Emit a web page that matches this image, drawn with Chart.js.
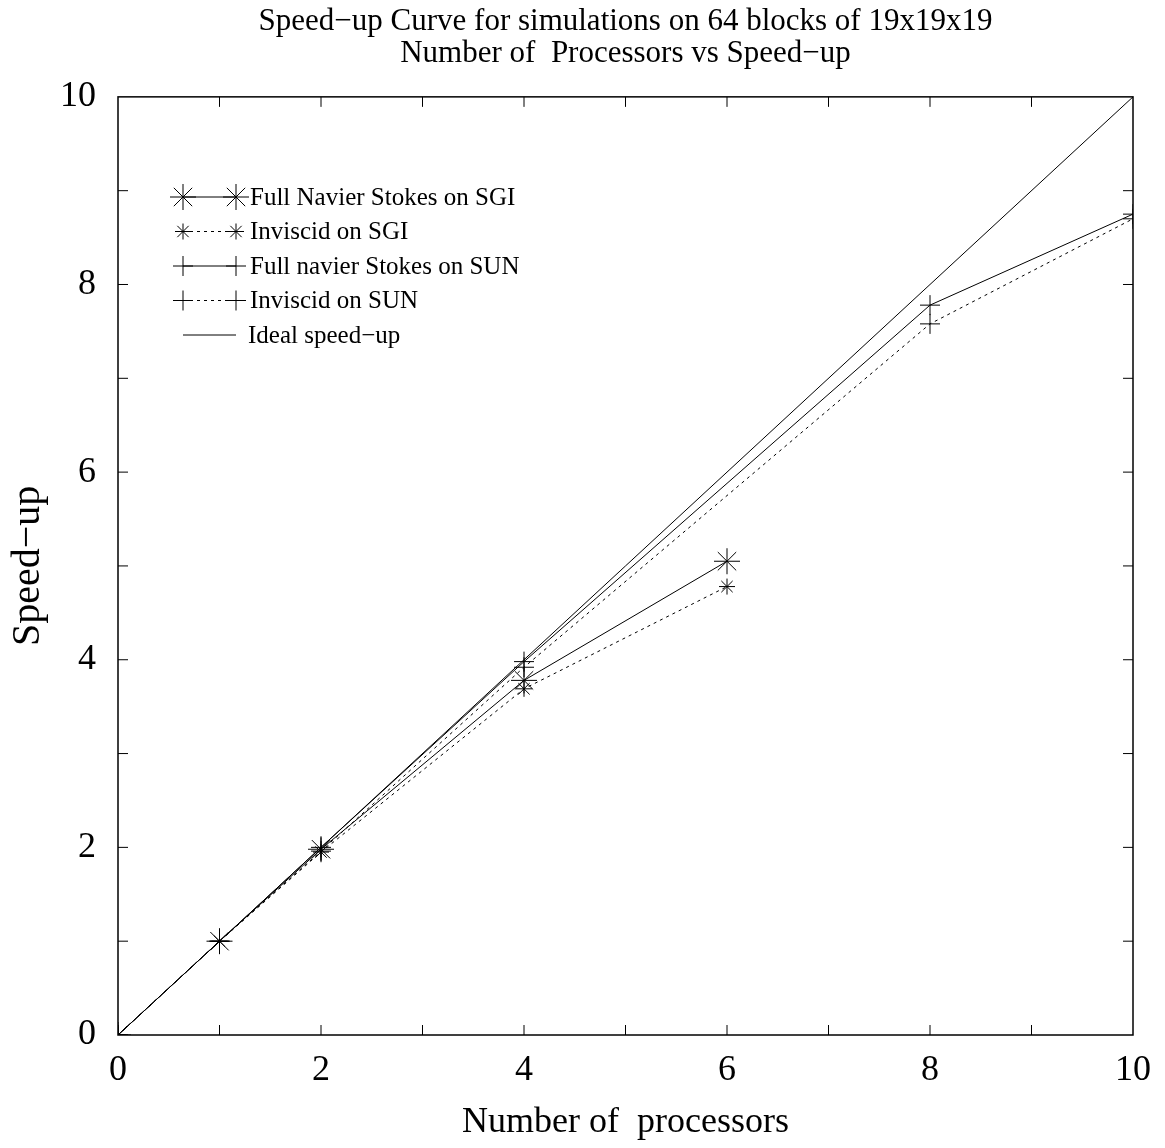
<!DOCTYPE html>
<html>
<head>
<meta charset="utf-8">
<script src="https://cdn.jsdelivr.net/npm/chart.js@4/dist/chart.umd.min.js"></script>
<style>
  body { margin: 0; background: #fff; }
  #wrap { width: 1165px; height: 1148px; }
</style>
</head>
<body>
<div id="wrap"><canvas id="speedupChart" width="1165" height="1148"></canvas></div>
<script>
// values
const sgiProcs = [0, 1, 2, 4, 6];
const sgiFull = [0, 1, 1.98, 3.78, 5.05];
const sgiInviscid = [0, 1, 1.95, 3.69, 4.78];
const sunProcs = [0, 1, 2, 4, 8, 10];
const sunFull = [0, 1, 2.0, 3.98, 7.78, 8.75];
const sunInviscid = [0, 1, 1.96, 3.92, 7.58, 8.70];
const idealProcs = [0, 10];
const idealSpeedup = [0, 10];
const seriesNames = ['Full Navier Stokes on SGI', 'Inviscid on SGI', 'Full navier Stokes on SUN', 'Inviscid on SUN', 'Ideal speed\u2212up'];
const tickValues = [0, 2, 4, 6, 8, 10];

const serif = "'Liberation Serif', 'DejaVu Serif', serif";

function toPoints(xs, ys) {
    return xs.map((x, i) => ({ x: x, y: ys[i] }));
}

// box around the plot with inward ticks on all four sides
const framePlugin = {
    id: 'frame',
    afterDatasetsDraw(chart) {
        const ctx = chart.ctx;
        const a = chart.chartArea;
        const xs = chart.scales.x;
        const ys = chart.scales.y;
        ctx.save();
        ctx.strokeStyle = '#000';
        ctx.lineWidth = 1.5;
        ctx.strokeRect(a.left, a.top, a.right - a.left, a.bottom - a.top);
        ctx.lineWidth = 1;
        ctx.beginPath();
        for (let v = 1; v < 10; v++) {
            let px = xs.getPixelForValue(v);
            ctx.moveTo(px, a.bottom); ctx.lineTo(px, a.bottom - 10);
            ctx.moveTo(px, a.top); ctx.lineTo(px, a.top + 10);
            let py = ys.getPixelForValue(v);
            ctx.moveTo(a.left, py); ctx.lineTo(a.left + 10, py);
            ctx.moveTo(a.right, py); ctx.lineTo(a.right - 10, py);
        }
        ctx.stroke();
        ctx.restore();
    }
};

// legend inside the plot, line with a marker on both ends
const keyPlugin = {
    id: 'key',
    afterDraw(chart) {
        const ctx = chart.ctx;
        ctx.save();
        let y = 197;
        chart.data.datasets.forEach(ds => {
            const x0 = 183, x1 = 236;
            ctx.strokeStyle = '#000';
            ctx.lineWidth = 1;
            ctx.setLineDash(ds.borderDash || []);
            ctx.beginPath();
            ctx.moveTo(x0, y);
            ctx.lineTo(x1, y);
            ctx.stroke();
            ctx.setLineDash([]);
            if (ds.pointRadius > 0) {
                const opts = { pointStyle: ds.pointStyle, radius: ds.pointRadius, borderWidth: 1, rotation: 0 };
                Chart.helpers.drawPoint(ctx, opts, x0, y);
                Chart.helpers.drawPoint(ctx, opts, x1, y);
            }
            ctx.fillStyle = '#000';
            ctx.font = '25px ' + serif;
            ctx.textBaseline = 'middle';
            ctx.textAlign = 'left';
            ctx.fillText(ds.label, ds.pointRadius > 0 ? 250 : 248, y + 1);
            y += 34.5;
        });
        ctx.restore();
    }
};

function drawChart() {
    const ctx = document.getElementById('speedupChart').getContext('2d');
    const speedupChart = new Chart(ctx, {
        type: 'scatter',
        data: {
            datasets: [{
                label: seriesNames[0],
                data: toPoints(sgiProcs, sgiFull),
                showLine: true,
                borderColor: '#000',
                borderWidth: 1,
                pointStyle: 'star',
                pointRadius: 13,
                pointBorderWidth: 1,
                pointBorderColor: '#000'
            }, {
                label: seriesNames[1],
                data: toPoints(sgiProcs, sgiInviscid),
                showLine: true,
                borderColor: '#000',
                borderWidth: 1,
                borderDash: [3, 4],
                pointStyle: 'star',
                pointRadius: 8,
                pointBorderWidth: 1,
                pointBorderColor: '#000'
            }, {
                label: seriesNames[2],
                data: toPoints(sunProcs, sunFull),
                showLine: true,
                borderColor: '#000',
                borderWidth: 1,
                pointStyle: 'cross',
                pointRadius: 10,
                pointBorderWidth: 1,
                pointBorderColor: '#000'
            }, {
                label: seriesNames[3],
                data: toPoints(sunProcs, sunInviscid),
                showLine: true,
                borderColor: '#000',
                borderWidth: 1,
                borderDash: [3, 4],
                pointStyle: 'cross',
                pointRadius: 10,
                pointBorderWidth: 1,
                pointBorderColor: '#000'
            }, {
                label: seriesNames[4],
                data: toPoints(idealProcs, idealSpeedup),
                showLine: true,
                borderColor: '#000',
                borderWidth: 1,
                pointRadius: 0
            }]
        },
        options: {
            responsive: false,
            animation: false,
            layout: { padding: { top: 0, right: 32, left: 0, bottom: 0 } },
            plugins: {
                legend: { display: false },
                tooltip: { enabled: false },
                title: {
                    display: true,
                    fullSize: false,
                    text: ['Speed\u2212up Curve for simulations on 64 blocks of 19x19x19', 'Number of  Processors vs Speed\u2212up'],
                    color: '#000',
                    font: { family: serif, size: 31, weight: 'normal', lineHeight: 1.03 },
                    padding: { top: 6, bottom: 27 }
                }
            },
            scales: {
                x: {
                    type: 'linear',
                    min: 0,
                    max: 10,
                    afterFit(scale) { scale.height = 113; },
                    afterBuildTicks(scale) { scale.ticks = tickValues.map(v => ({ value: v })); },
                    grid: { display: false },
                    border: { display: false },
                    ticks: { color: '#000', font: { family: serif, size: 36 }, padding: 6, maxRotation: 0 },
                    title: { display: true, text: 'Number of  processors', color: '#000', font: { family: serif, size: 36 }, padding: { top: 0 } }
                },
                y: {
                    type: 'linear',
                    min: 0,
                    max: 10,
                    afterFit(scale) { scale.width = 118; },
                    afterBuildTicks(scale) { scale.ticks = tickValues.map(v => ({ value: v })); },
                    grid: { display: false },
                    border: { display: false },
                    ticks: { color: '#000', font: { family: serif, size: 36 }, padding: 14 },
                    title: { display: true, text: 'Speed\u2212up', color: '#000', font: { family: serif, size: 40 }, padding: { top: 4, bottom: 0 } }
                }
            }
        },
        plugins: [framePlugin, keyPlugin]
    });
}

window.onload = function() {
    drawChart();
};
</script>
</body>
</html>
